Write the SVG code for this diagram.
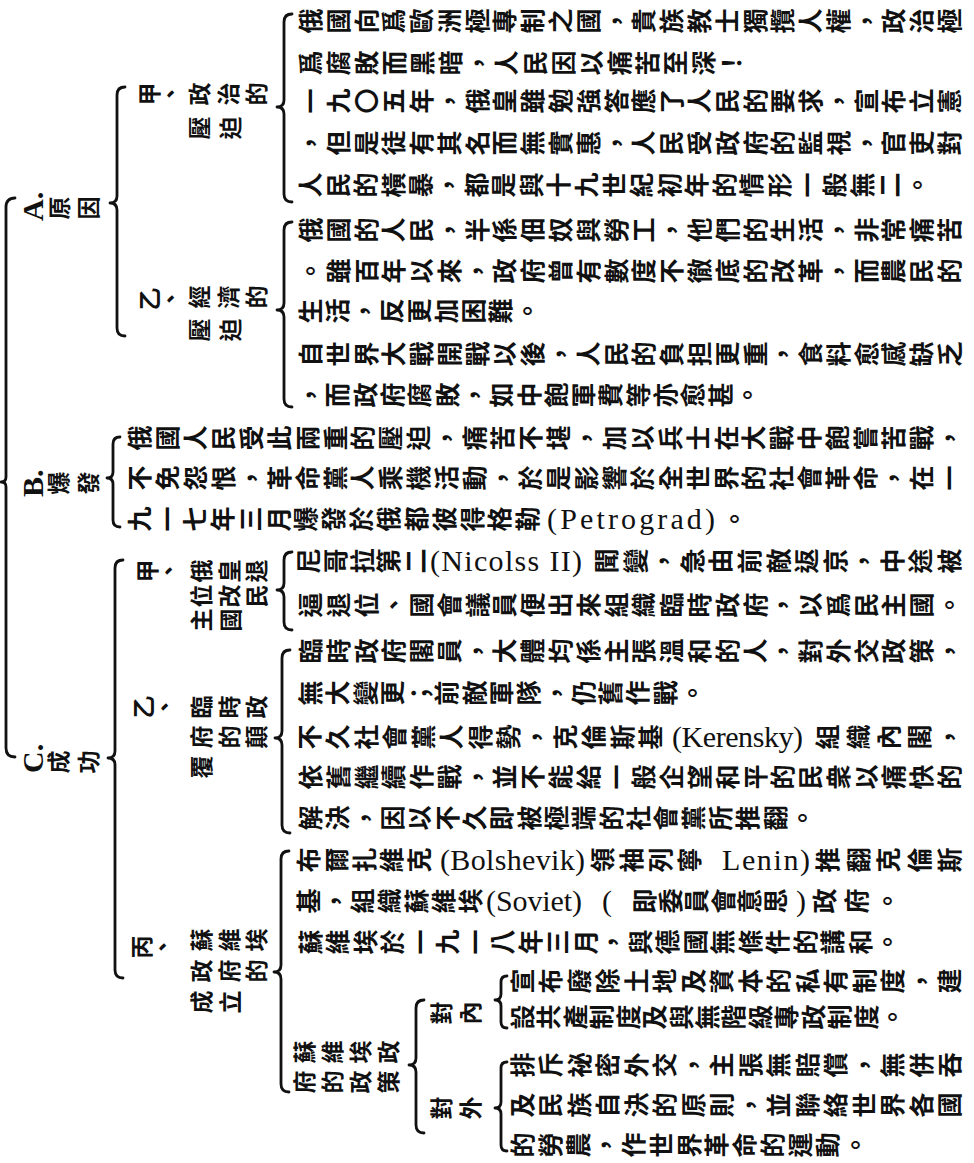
<svg xmlns="http://www.w3.org/2000/svg" width="974" height="1163" viewBox="0 0 974 1163">
<style>
.v{font-family:"Noto Sans CJK TC","Noto Sans CJK SC",sans-serif;font-size:25px;font-weight:600;writing-mode:vertical-rl;fill:#111}
.lv{font-family:"Noto Sans CJK TC","Noto Sans CJK SC",sans-serif;font-size:23px;font-weight:700;writing-mode:vertical-rl;fill:#111}
.lat{font-family:"Liberation Serif",serif;font-size:30px;fill:#111}
.let{font-family:"Liberation Serif",serif;font-size:30px;font-weight:700;fill:#111}
.br{fill:none;stroke:#111;stroke-width:2.8;stroke-linecap:round;stroke-linejoin:round}
</style>
<rect width="974" height="1163" fill="#fff"/>
<g id="connectors">
<path class="br" d="M15 198 Q6 198 6 207 L6 477 Q6 482 1 482 Q6 482 6 487 L6 748 Q6 757 15 757"/>
<path class="br" d="M125 87 Q117 87 117 95 L117 196 Q117 203 110 203 Q117 203 117 210 L117 328 Q117 336 125 336"/>
<path class="br" d="M120 437 Q113 437 113 444 L113 472 Q113 478 107 478 Q113 478 113 484 L113 520 Q113 527 120 527"/>
<path class="br" d="M123 560 Q115 560 115 568 L115 751 Q115 758 108 758 Q115 758 115 765 L115 970 Q115 978 123 978"/>
<path class="br" d="M292 14 Q284 14 284 22 L284 100 Q284 107 277 107 Q284 107 284 114 L284 194 Q284 202 292 202"/>
<path class="br" d="M292 222 Q284 222 284 230 L284 303 Q284 310 277 310 Q284 310 284 317 L284 399 Q284 407 292 407"/>
<path class="br" d="M292 552 Q284 552 284 560 L284 583 Q284 590 277 590 Q284 590 284 597 L284 622 Q284 630 292 630"/>
<path class="br" d="M290 650 Q282 650 282 658 L282 731 Q282 738 275 738 Q282 738 282 745 L282 825 Q282 833 290 833"/>
<path class="br" d="M289 851 Q281 851 281 859 L281 965 Q281 972 274 972 Q281 972 281 979 L281 1084 Q281 1092 289 1092"/>
<path class="br" d="M424 1000 Q416 1000 416 1008 L416 1058 Q416 1065 409 1065 Q416 1065 416 1072 L416 1125 Q416 1133 424 1133"/>
<path class="br" d="M507 976 Q501 976 501 982 L501 994 Q501 1000 495 1000 Q501 1000 501 1006 L501 1022 Q501 1028 507 1028"/>
<path class="br" d="M507 1062 Q501 1062 501 1068 L501 1102 Q501 1108 495 1108 Q501 1108 501 1114 L501 1145 Q501 1151 507 1151"/>
</g>
<g id="node-A">
<text class="let" transform="translate(32 221) rotate(-90)" dominant-baseline="central">A.</text>
<text class="lv" font-size="25" transform="translate(48 208) rotate(-90)" textLength="52">原因</text>
</g>
<g id="node-B">
<text class="let" transform="translate(32 497) rotate(-90)" dominant-baseline="central">B.</text>
<text class="lv" font-size="25" transform="translate(47 483) rotate(-90)" textLength="53">爆發</text>
</g>
<g id="node-C">
<text class="let" transform="translate(32 773) rotate(-90)" dominant-baseline="central">C.</text>
<text class="lv" font-size="25" transform="translate(47 762) rotate(-90)" textLength="53">成功</text>
</g>
<g id="node-A1">
<text class="lv" transform="translate(138 94) rotate(-90)" textLength="44">甲、</text>
<text class="lv" transform="translate(188 94) rotate(-90)" textLength="80">政治的</text>
<text class="lv" transform="translate(188 128) rotate(-90)" textLength="54">壓迫</text>
<text class="v" transform="translate(298 21) rotate(-90)" textLength="664">俄國向爲歐洲極專制之國，貴族教士獨攬人權，政治極</text>
<text class="v" transform="translate(298 63) rotate(-90)" textLength="446">爲腐敗而黑暗，人民因以痛苦至深！</text>
<text class="v" transform="translate(298 101) rotate(-90)" textLength="664">一九〇五年，俄皇雖勉強答應了人民的要求，宣布立憲</text>
<text class="v" transform="translate(298 143) rotate(-90)" textLength="664">，但是徒有其名而無實惠，人民受政府的監視，官吏對</text>
<text class="v" transform="translate(298 185) rotate(-90)" textLength="632">人民的橫暴，都是與十九世紀初年的情形一般無二。</text>
</g>
<g id="node-A2">
<text class="lv" transform="translate(138 299) rotate(-90)" textLength="44">乙、</text>
<text class="lv" transform="translate(188 297) rotate(-90)" textLength="80">經濟的</text>
<text class="lv" transform="translate(188 330) rotate(-90)" textLength="54">壓迫</text>
<text class="v" transform="translate(298 230) rotate(-90)" textLength="664">俄國的人民，半係佃奴與勞工，他們的生活，非常痛苦</text>
<text class="v" transform="translate(298 271) rotate(-90)" textLength="664">。雖百年以來，政府曾有數度不徹底的改革，而農民的</text>
<text class="v" transform="translate(298 311) rotate(-90)" textLength="242">生活，反更加困難。</text>
<text class="v" transform="translate(298 354) rotate(-90)" textLength="664">自世界大戰開戰以後，人民的負担更重，食料愈感缺乏</text>
<text class="v" transform="translate(298 395) rotate(-90)" textLength="462">，而政府腐敗，如中飽軍費等亦愈甚。</text>
</g>
<g id="node-B-text">
<text class="v" transform="translate(127 438) rotate(-90)" textLength="835">俄國人民受此兩重的壓迫，痛苦不堪，加以兵士在大戰中飽嘗苦戰，</text>
<text class="v" transform="translate(127 478) rotate(-90)" textLength="835">不免怨恨，革命黨人乘機活動，於是影響於全世界的社會革命，在一</text>
<text class="v" transform="translate(127 519) rotate(-90)" textLength="413">九一七年三月爆發於俄都彼得格勒</text>
<text class="lat" x="547" y="529" textLength="168">(Petrograd)</text>
<text class="v" transform="translate(722 519) rotate(-90)">。</text>
</g>
<g id="node-C1">
<text class="lv" font-size="22" transform="translate(136 571) rotate(-90)" textLength="44">甲、</text>
<text class="lv" font-size="22" transform="translate(190 571) rotate(-90)" textLength="78">俄皇退</text>
<text class="lv" font-size="22" transform="translate(190 596) rotate(-90)" textLength="78">位改民</text>
<text class="lv" font-size="22" transform="translate(190 620) rotate(-90)" textLength="52">主國</text>
<text class="v" transform="translate(296 561) rotate(-90)" textLength="132">尼哥拉第二</text>
<text class="lat" x="430" y="571" textLength="152">(Nicolss II)</text>
<text class="v" transform="translate(594 561) rotate(-90)" textLength="368">聞變，急由前敵返京，中途被</text>
<text class="v" transform="translate(298 605) rotate(-90)" textLength="664">逼退位、國會議員便出來組織臨時政府，以爲民主國。</text>
</g>
<g id="node-C2">
<text class="lv" transform="translate(132 707) rotate(-90)" textLength="44">乙、</text>
<text class="lv" transform="translate(190 707) rotate(-90)" textLength="78">臨時政</text>
<text class="lv" transform="translate(190 737) rotate(-90)" textLength="78">府的顛</text>
<text class="lv" transform="translate(190 767) rotate(-90)">覆</text>
<text class="v" transform="translate(298 651) rotate(-90)" textLength="664">臨時政府閣員，大體均係主張溫和的人，對外交政策，</text>
<text class="v" transform="translate(298 693) rotate(-90)" textLength="407">無大變更；前敵軍隊，仍舊作戰。</text>
<text class="v" transform="translate(297 737) rotate(-90)" textLength="366">不久社會黨人得勢，克倫斯基</text>
<text class="lat" x="672" y="747" textLength="131">(Kerensky)</text>
<text class="v" transform="translate(815 737) rotate(-90)" textLength="147">組織內閣，</text>
<text class="v" transform="translate(298 777) rotate(-90)" textLength="664">依舊繼續作戰，並不能給一般企望和平的民衆以痛快的</text>
<text class="v" transform="translate(298 818) rotate(-90)" textLength="517">解決，因以不久即被極端的社會黨所推翻。</text>
</g>
<g id="node-C3">
<text class="lv" transform="translate(130 947) rotate(-90)" textLength="44">丙、</text>
<text class="lv" transform="translate(190 940) rotate(-90)" textLength="78">蘇維埃</text>
<text class="lv" transform="translate(190 971) rotate(-90)" textLength="78">政府的</text>
<text class="lv" transform="translate(190 1002) rotate(-90)" textLength="52">成立</text>
<text class="v" transform="translate(296 860) rotate(-90)" textLength="136">布爾扎維克</text>
<text class="lat" x="440" y="870" textLength="145">(Bolshevik)</text>
<text class="v" transform="translate(590 860) rotate(-90)" textLength="112">領袖列寧</text>
<text class="lat" x="722" y="870" textLength="88">Lenin)</text>
<text class="v" transform="translate(815 860) rotate(-90)" textLength="147">推翻克倫斯</text>
<text class="v" transform="translate(296 901) rotate(-90)" textLength="187">基，組織蘇維埃</text>
<text class="lat" x="486" y="911" textLength="96">(Soviet)</text>
<text class="lat" x="602" y="911">(</text>
<text class="v" transform="translate(632 901) rotate(-90)" textLength="156">即委員會意思</text>
<text class="lat" x="796" y="911">)</text>
<text class="v" transform="translate(812 901) rotate(-90)" textLength="88">政府。</text>
<text class="v" transform="translate(298 942) rotate(-90)" textLength="602">蘇維埃於一九一八年三月，與德國無條件的講和。</text>
</g>
<g id="node-C3-policy">
<text class="lv" transform="translate(293 1052) rotate(-90)" textLength="107">蘇維埃政</text>
<text class="lv" transform="translate(293 1082) rotate(-90)" textLength="107">府的政策</text>
</g>
<g id="node-inner">
<text class="lv" transform="translate(430 1013) rotate(-90)" textLength="52">對內</text>
<text class="v" transform="translate(510 981) rotate(-90)" textLength="452">宣布廢除土地及資本的私有制度，建</text>
<text class="v" transform="translate(510 1017) rotate(-90)" textLength="395">設共產制度及與無階級專政制度。</text>
</g>
<g id="node-outer">
<text class="lv" transform="translate(430 1108) rotate(-90)" textLength="52">對外</text>
<text class="v" transform="translate(510 1065) rotate(-90)" textLength="452">排斥祕密外交，主張無賠償，無併吞</text>
<text class="v" transform="translate(510 1105) rotate(-90)" textLength="452">及民族自決的原則，並聯絡世界各國</text>
<text class="v" transform="translate(510 1145) rotate(-90)" textLength="358">的勞農，作世界革命的運動。</text>
</g>
</svg>
